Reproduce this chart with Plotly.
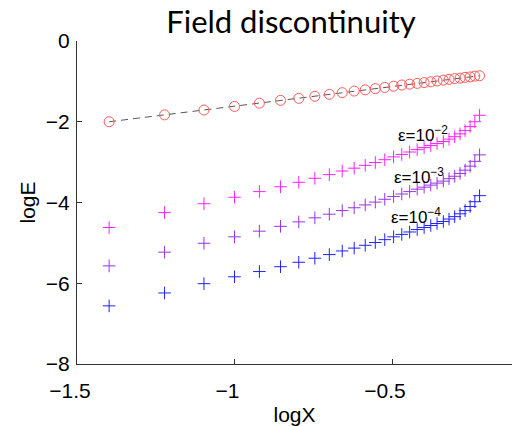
import plotly.graph_objects as go

# logX values (X = 0.04 ... 0.60)
log_x = [-1.398, -1.222, -1.097, -1.000, -0.921, -0.854, -0.796, -0.745, -0.699,
         -0.658, -0.620, -0.585, -0.553, -0.523, -0.495, -0.469, -0.444, -0.420,
         -0.398, -0.377, -0.357, -0.337, -0.319, -0.301, -0.284, -0.268, -0.252,
         -0.237, -0.222]

field_disc = [-2.00, -1.83, -1.71, -1.62, -1.54, -1.47, -1.42, -1.37, -1.32,
              -1.28, -1.24, -1.21, -1.18, -1.15, -1.12, -1.09, -1.07, -1.05,
              -1.03, -1.01, -0.99, -0.97, -0.95, -0.93, -0.92, -0.90, -0.89,
              -0.87, -0.86]

eps_1e2 = [-4.62, -4.25, -4.03, -3.87, -3.73, -3.61, -3.50, -3.40, -3.31,
           -3.22, -3.15, -3.08, -3.01, -2.94, -2.87, -2.81, -2.75, -2.69,
           -2.64, -2.59, -2.54, -2.49, -2.43, -2.37, -2.30, -2.22, -2.12,
           -2.00, -1.84]

eps_1e3 = [-5.57, -5.23, -5.01, -4.85, -4.71, -4.59, -4.48, -4.38, -4.29,
           -4.20, -4.13, -4.06, -3.99, -3.92, -3.85, -3.79, -3.73, -3.67,
           -3.62, -3.57, -3.52, -3.47, -3.41, -3.35, -3.28, -3.20, -3.10,
           -2.98, -2.82]

eps_1e4 = [-6.56, -6.24, -6.01, -5.84, -5.71, -5.59, -5.48, -5.38, -5.29,
           -5.20, -5.13, -5.06, -4.99, -4.92, -4.85, -4.79, -4.73, -4.67,
           -4.62, -4.57, -4.52, -4.47, -4.41, -4.35, -4.28, -4.20, -4.10,
           -3.98, -3.83]

x_ticks = [-1.5, -1, -0.5]
x_tick_labels = ["\u22121.5", "\u22121", "\u22120.5"]
y_ticks = [-8, -6, -4, -2, 0]
y_tick_labels = ["\u22128", "\u22126", "\u22124", "\u22122", "0"]

eps_labels = ["\u03b5=10<sup>\u22122</sup>", "\u03b5=10<sup>\u22123</sup>", "\u03b5=10<sup>\u22124</sup>"]
eps_label_x = [-0.402, -0.414, -0.424]
eps_label_y = [-2.30, -3.35, -4.33]

fig = go.Figure()

fig.add_trace(go.Scatter(
    x=log_x, y=field_disc, mode="lines",
    line=dict(color="#444444", width=0.9, dash="7px,5px"),
    showlegend=False, hoverinfo="skip"))
fig.add_trace(go.Scatter(
    x=log_x, y=field_disc, mode="markers",
    marker=dict(symbol="circle-open", size=10, color="#ff5a5a",
                line=dict(width=1, color="#ff5a5a")),
    showlegend=False))

for ys, col in [(eps_1e2, "#ff22ff"), (eps_1e3, "#9933e6"), (eps_1e4, "#2222ff")]:
    fig.add_trace(go.Scatter(
        x=log_x, y=ys, mode="markers",
        marker=dict(symbol="cross-thin", size=9, color=col,
                    line=dict(width=1, color=col)),
        showlegend=False))

for txt, ax, ay in zip(eps_labels, eps_label_x, eps_label_y):
    fig.add_annotation(x=ax, y=ay, text=txt, showarrow=False,
                       xanchor="center", yanchor="middle",
                       font=dict(family="Arial", size=17, color="black"))

axis_font = dict(family="Arial", size=21, color="black")

fig.update_layout(
    width=512, height=426,
    margin=dict(l=77, r=0, t=41, b=62),
    paper_bgcolor="white", plot_bgcolor="white",
    title=dict(text="Field discontinuity", x=291/512, xanchor="center",
               y=1 - 22/426, yanchor="middle", yref="container", xref="container",
               font=dict(family="Lato", size=31, color="black")),
    xaxis=dict(range=[-1.5, -1.5 + 435/315], tickvals=x_ticks, ticktext=x_tick_labels,
               ticks="inside", ticklen=5, tickcolor="#333", showline=True,
               linecolor="#333", linewidth=1, showgrid=False, zeroline=False,
               tickfont=axis_font, ticklabelstandoff=8, ticklabelshift=-7,
               title=dict(text="logX", font=axis_font, standoff=6)),
    yaxis=dict(range=[-8, 0], tickvals=y_ticks, ticktext=y_tick_labels,
               ticks="inside", ticklen=5, tickcolor="#333", showline=True,
               linecolor="#333", linewidth=1, showgrid=False, zeroline=False,
               tickfont=axis_font, ticklabelstandoff=2,
               title=dict(text="logE", font=axis_font, standoff=4)),
)

fig.write_html("out.html")
